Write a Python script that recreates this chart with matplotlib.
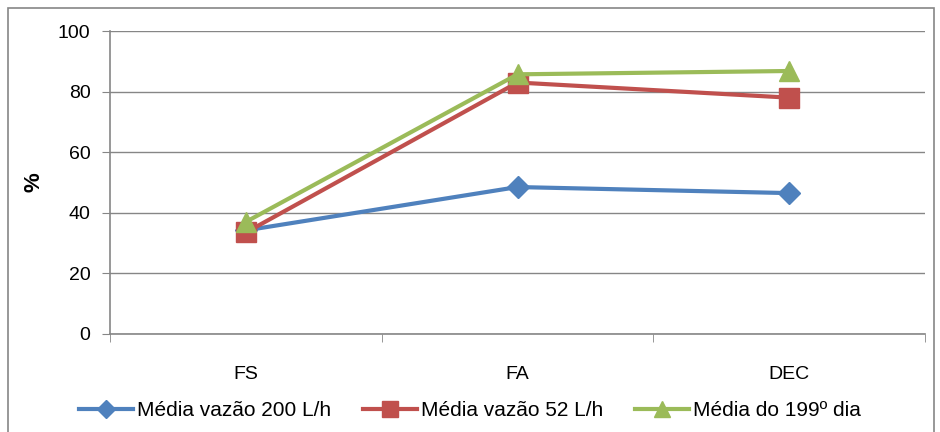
import matplotlib.pyplot as plt
from matplotlib.patches import Rectangle
import numpy as np

categories = ["FS", "FA", "DEC"]
media_200 = [34.2, 48.5, 46.5]
media_52 = [33.5, 83.0, 78.0]
media_199 = [37.0, 85.7, 86.8]

plt.rcParams['font.family'] = ['Liberation Sans', 'DejaVu Sans']

fig = plt.figure(figsize=(9.4, 4.32), dpi=100)
ax = fig.add_axes([110/940, 1 - 334/432, 815/940, 303/432])

x = np.arange(len(categories))
ax.plot(x, media_200, color="#4F81BD", lw=3, marker="D", ms=11.5, label="Média vazão 200 L/h")
ax.plot(x, media_52, color="#C0504D", lw=3, marker="s", ms=14.5, label="Média vazão 52 L/h")
ax.plot(x, media_199, color="#9BBB59", lw=3, marker="^", ms=15, label="Média do 199º dia")

ax.set_xlim(-0.5, 2.5)
ax.set_ylim(0, 100)
ax.set_yticks(np.arange(0, 101, 20))
ax.set_xticks(x)
ax.set_xticklabels(categories)
ax.set_xticks([-0.5, 0.5, 1.5, 2.5], minor=True)
ax.tick_params(axis="x", which="major", length=0, pad=23, labelsize=14)
ax.tick_params(axis="x", which="minor", length=6, color="#868686", direction="out")
ax.tick_params(axis="y", length=6, color="#868686", labelsize=14, pad=8)
ax.grid(axis="y", color="#868686", lw=1)
ax.set_axisbelow(True)
for s in ["top", "right"]:
    ax.spines[s].set_visible(False)
for s in ["left", "bottom"]:
    ax.spines[s].set_color("#868686")
    ax.spines[s].set_linewidth(1.2)
ax.set_ylabel("%", fontsize=16, fontweight="bold", labelpad=10)

fig.legend(loc="center", bbox_to_anchor=(0.5, 1 - 411/432), ncol=3, frameon=False,
           fontsize=15, handlelength=2.6, columnspacing=1.5, handletextpad=0.2,
           markerscale=0.8)

fig.patches.append(Rectangle((8/940, -0.05), 926/940, 1 - 8/432 + 0.05, transform=fig.transFigure,
                             fill=False, edgecolor="#868686", lw=1.2))

fig.savefig("out.png", dpi=100)
